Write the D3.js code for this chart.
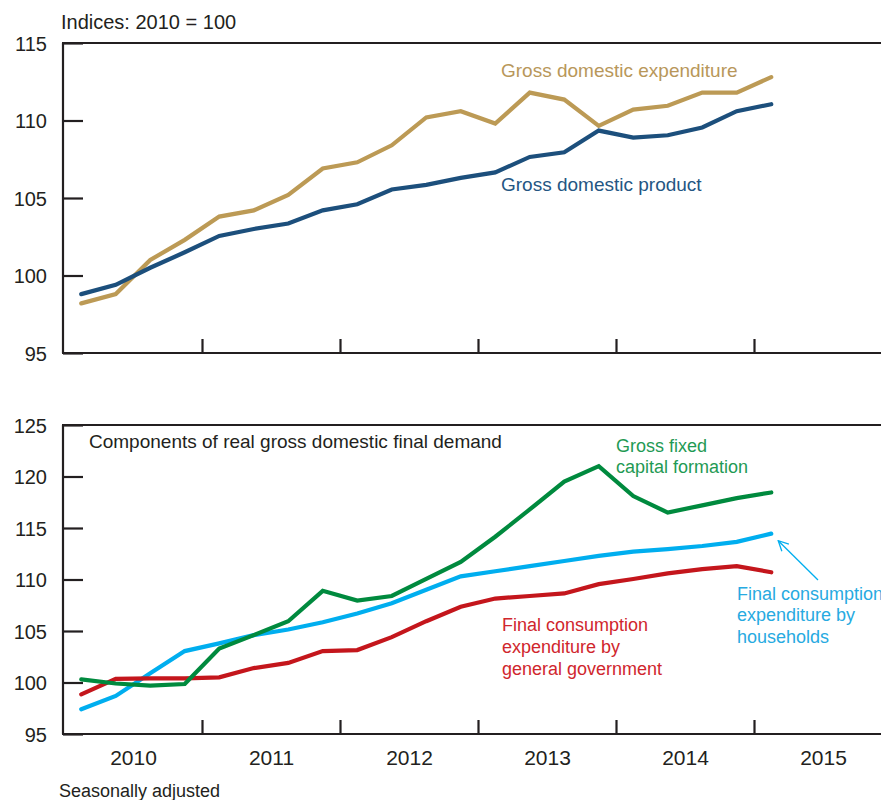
<!DOCTYPE html>
<html>
<head>
<meta charset="utf-8">
<script src="https://cdn.jsdelivr.net/npm/d3@7/dist/d3.min.js"></script>
<style>
  html, body { margin: 0; padding: 0; background: #fff; }
  svg { display: block; font-family: "Liberation Sans", Arial, Helvetica, sans-serif; }
</style>
</head>
<body>
<svg id="chart" width="881" height="800"></svg>
<script>
// ---- Data (quarterly, 2010 Q1 – 2015 Q1) ----
const quarters = d3.range(21).map(i => 2010 + (i + 0.5) / 4);

const grossDomesticExpenditure = [98.2, 98.8, 101.0, 102.3, 103.8, 104.2, 105.2, 106.9, 107.3, 108.4, 110.2, 110.6,
  109.8, 111.8, 111.35, 109.65, 110.7, 110.95, 111.8, 111.8, 112.8];
const grossDomesticProduct = [98.8, 99.4, 100.5, 101.5, 102.55, 103.0, 103.35, 104.2, 104.6, 105.55, 105.85, 106.3,
  106.65, 107.65, 107.95, 109.35, 108.9, 109.05, 109.55, 110.6, 111.05];

const grossFixedCapitalFormation = [100.3, 99.9, 99.7, 99.85, 103.3, 104.6, 105.95, 108.9, 107.95, 108.4, 110.05, 111.7,
  114.15, 116.8, 119.5, 121.0, 118.1, 116.5, 117.2, 117.9, 118.45];
const householdConsumption = [97.4, 98.7, 100.9, 103.05, 103.8, 104.6, 105.15, 105.85, 106.7, 107.7, 109.0, 110.3,
  110.8, 111.3, 111.8, 112.3, 112.7, 112.95, 113.25, 113.65, 114.45];
const governmentConsumption = [98.85, 100.35, 100.4, 100.4, 100.5, 101.4, 101.9, 103.05, 103.15, 104.4, 105.95, 107.35,
  108.15, 108.4, 108.65, 109.55, 110.05, 110.6, 111.0, 111.3, 110.7];

const yearLabels = [2010, 2011, 2012, 2013, 2014, 2015];
const yearBoundaries = [2011, 2012, 2013, 2014, 2015];
const topTicks = [95, 100, 105, 110, 115];
const bottomTicks = [95, 100, 105, 110, 115, 120, 125];

// ---- Colours ----
const cGold = "#BC9A55", cNavy = "#1C4F7C", cGreen = "#008A3E", cRed = "#C4161C", cSky = "#00AEEF";
const cText = "#231F20";

const svg = d3.select("#chart");
const W = 881;

const x = d3.scaleLinear().domain([2010, 2016]).range([64, 892]);
const yTop = d3.scaleLinear().domain([95, 115]).range([353, 43]);
const yBot = d3.scaleLinear().domain([95, 125]).range([734, 425]);

function drawPanel(y, ticks, showYears) {
  const g = svg.append("g");
  const x0 = x.range()[0] - 1;
  const ya = g.append("g").attr("transform", `translate(${x0},0)`)
    .call(d3.axisLeft(y).tickValues(ticks).tickSizeInner(-20).tickSizeOuter(0).tickPadding(16).tickFormat(d3.format("d")));
  ya.select(".domain").remove();
  ya.selectAll("line").attr("stroke", cText).attr("stroke-width", 2.2);
  ya.selectAll("text").attr("fill", cText).style("font-size", "20px").attr("dy", "0.36em");
  g.append("line").attr("x1", x0).attr("x2", x0).attr("y1", y.range()[1]).attr("y2", y.range()[0])
    .attr("stroke", cText).attr("stroke-width", 2.2);
  g.append("line").attr("x1", x0 - 1).attr("x2", W).attr("y1", y.range()[1]).attr("y2", y.range()[1])
    .attr("stroke", cText).attr("stroke-width", 2.2);
  const xa = g.append("g").attr("transform", `translate(0,${y.range()[0]})`)
    .call(d3.axisBottom(x).tickValues(yearBoundaries).tickSizeInner(-14).tickSizeOuter(0).tickFormat(""));
  xa.select(".domain").remove();
  xa.selectAll("line").attr("stroke", cText).attr("stroke-width", 2.2);
  g.append("line").attr("x1", x0 - 1).attr("x2", W).attr("y1", y.range()[0]).attr("y2", y.range()[0])
    .attr("stroke", cText).attr("stroke-width", 2.2);
  if (showYears) {
    const la = g.append("g").attr("transform", `translate(0,${y.range()[0]})`)
      .call(d3.axisBottom(x).tickValues(yearLabels.map(v => v + 0.5)).tickSize(0).tickPadding(16)
        .tickFormat(d => String(Math.floor(d))));
    la.select(".domain").remove();
    la.selectAll("text").attr("fill", cText).style("font-size", "21px");
  }
  return g;
}

function drawLine(y, values, color) {
  const line = d3.line().x((d, i) => x(quarters[i])).y(d => y(d));
  svg.append("path").datum(values).attr("d", line).attr("fill", "none")
    .attr("stroke", color).attr("stroke-width", 4.2).attr("stroke-linejoin", "miter").attr("stroke-linecap", "round");
}

function label(lines, xPos, yPos, color, lh, size) {
  const t = svg.append("text").attr("x", xPos).attr("y", yPos).attr("fill", color).style("font-size", (size || 19) + "px");
  lines.forEach((s, i) => t.append("tspan").attr("x", xPos).attr("dy", i === 0 ? 0 : lh).text(s));
}

// ---- Top panel ----
drawPanel(yTop, topTicks, false);
drawLine(yTop, grossDomesticExpenditure, cGold);
drawLine(yTop, grossDomesticProduct, cNavy);
label(["Indices: 2010 = 100"], 61, 29, cText, 0, 20);
label(["Gross domestic expenditure"], 501, 77, "#B8975A", 0, 19);
label(["Gross domestic product"], 501, 191, "#245683", 0, 19);

// ---- Bottom panel ----
drawPanel(yBot, bottomTicks, true);
drawLine(yBot, householdConsumption, cSky);
drawLine(yBot, governmentConsumption, cRed);
drawLine(yBot, grossFixedCapitalFormation, cGreen);

label(["Components of real gross domestic final demand"], 89, 448, cText, 0, 19);
label(["Gross fixed", "capital formation"], 616, 452, "#1F9A54", 21, 18);
label(["Final consumption", "expenditure by", "general government"], 502, 631, "#D0262D", 21.8, 18);
label(["Final consumption", "expenditure by", "households"], 737, 600, "#27AAE1", 21.4, 18);
label(["Seasonally adjusted"], 59, 797, cText, 0, 18);

// arrow pointing to households series end
const defs = svg.append("defs");
defs.append("marker").attr("id", "ah").attr("viewBox", "0 0 12 12").attr("refX", 11).attr("refY", 6)
  .attr("markerWidth", 12).attr("markerHeight", 12).attr("markerUnits", "userSpaceOnUse").attr("orient", "auto")
  .append("path").attr("d", "M1,1 L11,6 L1,11").attr("fill", "none").attr("stroke", cSky).attr("stroke-width", 1.3);
const endX = x(quarters[20]), endY = yBot(householdConsumption[20]);
svg.append("line").attr("x1", 818).attr("y1", 580).attr("x2", endX + 7).attr("y2", endY + 7)
  .attr("stroke", cSky).attr("stroke-width", 1.3).attr("marker-end", "url(#ah)");
</script>
</body>
</html>
